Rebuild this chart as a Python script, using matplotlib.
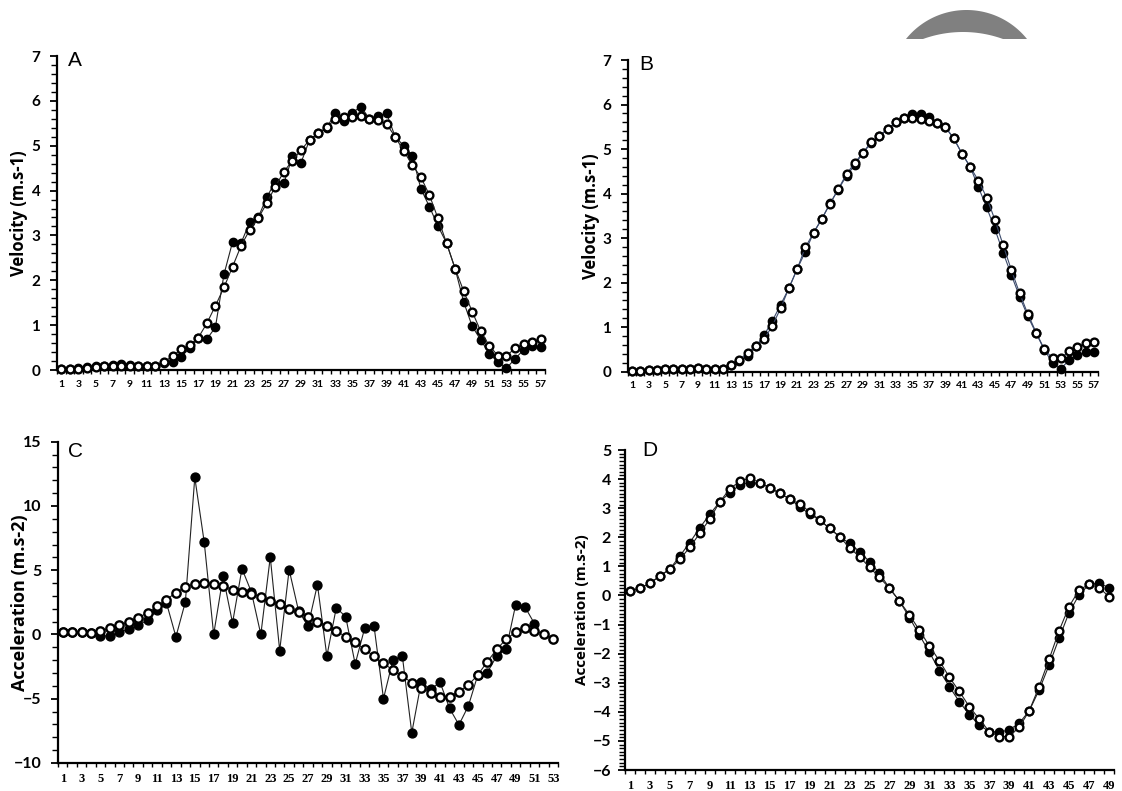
import numpy as np
import matplotlib
matplotlib.use("Agg")
import matplotlib.pyplot as plt
from matplotlib.ticker import MultipleLocator, FixedLocator
from matplotlib.patches import Polygon

# ---------------- data ----------------
velA_filled = [0.03, 0.03, 0.04, 0.06, 0.08, 0.09, 0.12, 0.13, 0.12, 0.10, 0.08, 0.10,
               0.15, 0.18, 0.30, 0.48, 0.72, 0.69, 0.95, 2.13, 2.85, 2.83, 3.29, 3.40,
               3.85, 4.20, 4.16, 4.76, 4.62, 5.13, 5.28, 5.39, 5.74, 5.54, 5.74, 5.87,
               5.60, 5.67, 5.72, 5.20, 5.00, 4.78, 4.04, 3.64, 3.21, 2.83, 2.26, 1.52,
               0.97, 0.67, 0.36, 0.18, 0.04, 0.25, 0.45, 0.54, 0.51]
velA_open = [0.02, 0.02, 0.03, 0.05, 0.07, 0.08, 0.10, 0.10, 0.10, 0.09, 0.08, 0.10,
             0.18, 0.31, 0.46, 0.56, 0.72, 1.04, 1.43, 1.84, 2.30, 2.77, 3.12, 3.38,
             3.72, 4.09, 4.42, 4.67, 4.90, 5.13, 5.28, 5.41, 5.59, 5.63, 5.65, 5.67,
             5.60, 5.58, 5.48, 5.20, 4.88, 4.57, 4.30, 3.90, 3.38, 2.83, 2.26, 1.76,
             1.30, 0.86, 0.54, 0.32, 0.32, 0.48, 0.58, 0.63, 0.69]

velB_filled = [0.02, 0.01, 0.03, 0.04, 0.06, 0.06, 0.06, 0.07, 0.08, 0.05, 0.05, 0.07,
               0.15, 0.24, 0.36, 0.57, 0.82, 1.14, 1.50, 1.87, 2.30, 2.69, 3.12, 3.43,
               3.78, 4.09, 4.40, 4.64, 4.92, 5.13, 5.29, 5.46, 5.60, 5.69, 5.78, 5.78,
               5.73, 5.59, 5.49, 5.24, 4.90, 4.60, 4.14, 3.69, 3.20, 2.67, 2.17, 1.68,
               1.24, 0.86, 0.49, 0.19, 0.07, 0.26, 0.37, 0.45, 0.45]
velB_open = [0.02, 0.01, 0.03, 0.04, 0.06, 0.06, 0.06, 0.07, 0.08, 0.05, 0.05, 0.07,
             0.15, 0.26, 0.43, 0.58, 0.73, 1.03, 1.42, 1.87, 2.30, 2.79, 3.12, 3.43,
             3.77, 4.10, 4.44, 4.69, 4.92, 5.16, 5.29, 5.46, 5.60, 5.69, 5.69, 5.67,
             5.64, 5.59, 5.49, 5.24, 4.90, 4.60, 4.29, 3.91, 3.41, 2.84, 2.28, 1.76,
             1.29, 0.88, 0.50, 0.30, 0.30, 0.46, 0.56, 0.64, 0.67]

accC_filled = [0.20, 0.20, 0.18, 0.12, -0.10, -0.13, 0.20, 0.39, 0.72, 1.11, 1.89, 2.45,
               -0.18, 2.53, 12.22, 7.18, 0.00, 4.52, 0.90, 5.12, 3.30, 0.00, 6.02, -1.25,
               5.04, 1.83, 0.65, 3.88, -1.68, 2.09, 1.37, -2.30, 0.47, 0.65, -4.99, -2.00,
               -1.68, -7.65, -3.72, -4.26, -3.72, -5.74, -7.03, -5.56, -3.15, -2.97, -1.68,
               -1.16, 2.27, 2.14, 0.85, np.nan, np.nan]
accC_open = [0.22, 0.20, 0.18, 0.15, 0.30, 0.47, 0.72, 0.98, 1.32, 1.68, 2.20, 2.71,
             3.26, 3.70, 3.95, 4.03, 3.95, 3.77, 3.49, 3.31, 3.18, 2.92, 2.60, 2.35,
             1.96, 1.73, 1.37, 1.00, 0.65, 0.28, -0.18, -0.62, -1.16, -1.68, -2.25, -2.76,
             -3.23, -3.75, -4.13, -4.57, -4.83, -4.83, -4.44, -3.93, -3.15, -2.12, -1.16,
             -0.36, 0.18, 0.47, 0.28, 0.03, -0.36]

accD_filled = [0.15, 0.25, 0.42, 0.67, 0.91, 1.36, 1.82, 2.33, 2.79, 3.22, 3.53, 3.80,
               3.88, 3.85, 3.71, 3.51, 3.32, 3.05, 2.80, 2.59, 2.31, 2.02, 1.79, 1.51,
               1.16, 0.76, 0.25, -0.19, -0.76, -1.36, -1.95, -2.58, -3.13, -3.65, -4.10,
               -4.45, -4.68, -4.70, -4.62, -4.39, -3.97, -3.25, -2.39, -1.47, -0.59, 0.02,
               0.38, 0.42, 0.27]
accD_open = [0.15, 0.25, 0.42, 0.67, 0.91, 1.24, 1.66, 2.14, 2.63, 3.22, 3.66, 3.93,
             4.03, 3.88, 3.71, 3.51, 3.32, 3.14, 2.88, 2.59, 2.31, 2.02, 1.64, 1.33,
             0.97, 0.62, 0.25, -0.19, -0.67, -1.19, -1.74, -2.24, -2.81, -3.30, -3.82,
             -4.25, -4.68, -4.85, -4.85, -4.53, -3.97, -3.13, -2.19, -1.21, -0.38, 0.19,
             0.38, 0.27, -0.04]

panel_letters = ["A", "B", "C", "D"]
ylabels = ["Velocity (m.s-1)", "Velocity (m.s-1)", "Acceleration (m.s-2)", "Acceleration (m.s-2)"]

# ---------------- figure ----------------
W, H = 1122, 791
fig = plt.figure(figsize=(W / 100, H / 100), dpi=100)
fig.patch.set_facecolor("white")

# decorative grey crescent at top right (overlay in pixel space)
ov = fig.add_axes([0, 0, 1, 1])
ov.set_xlim(0, W)
ov.set_ylim(H, 0)
ov.axis("off")
cut = 39.0
oc, orad = (966.5, 87.6), 77.6
ic, irad = (963.0, 149.8), 117.8
def arc_pts(c, r, ycut, reverse=False):
    dy = c[1] - ycut
    half = np.arccos(dy / r)
    ang = np.linspace(-np.pi / 2 - half, -np.pi / 2 + half, 80)
    pts = np.column_stack([c[0] + r * np.cos(ang), c[1] + r * np.sin(ang)])
    return pts[::-1] if reverse else pts
outer = arc_pts(oc, orad, cut)
inner = arc_pts(ic, irad, cut, reverse=True)
ov.add_patch(Polygon(np.vstack([outer, inner]), closed=True, facecolor="#808080",
                     edgecolor="none"))

def px_axes(left, right, top, bottom):
    return fig.add_axes([left / W, 1 - bottom / H, (right - left) / W, (bottom - top) / H])

TICKFONT = "Lato"
SERIF = "Liberation Serif"

def style(ax, n, ylim, major, minor, xfont, xsize, ysize, label, letter,
          ylabel_px, left_px, width_px, letter_xy, ylab_size, ypad=7):
    ax.set_xlim(0.5, n + 0.5)
    ax.set_ylim(*ylim)
    for s in ["top", "right"]:
        ax.spines[s].set_visible(False)
    for s in ["left", "bottom"]:
        ax.spines[s].set_linewidth(1.6)
    ax.yaxis.set_major_locator(MultipleLocator(major))
    ax.yaxis.set_minor_locator(MultipleLocator(minor))
    ax.set_xticks(np.arange(1, n + 1, 2))
    ax.set_xticklabels([str(v) for v in range(1, n + 1, 2)])
    ax.xaxis.set_minor_locator(FixedLocator(np.arange(0.5, n + 1, 1.0)))
    ax.tick_params(axis="x", which="major", length=0, pad=7)
    ax.tick_params(axis="x", which="minor", length=3, width=1.0, direction="out")
    ax.tick_params(axis="y", which="major", length=5, width=1.3, direction="out", pad=ypad)
    ax.tick_params(axis="y", which="minor", length=4, width=1.0, direction="out")
    for t in ax.get_xticklabels():
        t.set_fontfamily(xfont)
        t.set_fontweight("bold")
        t.set_fontsize(xsize)
    for t in ax.get_yticklabels():
        t.set_fontfamily(TICKFONT)
        t.set_fontweight("bold")
        t.set_fontsize(ysize)
    ax.set_ylabel(label, fontfamily="Open Sans", fontweight="bold", fontsize=ylab_size)
    ax.yaxis.set_label_coords((ylabel_px - left_px) / width_px, 0.5)
    ax.text(letter_xy[0], letter_xy[1], letter, transform=ax.transAxes,
            fontfamily="Liberation Sans", fontsize=15, ha="left", va="center")

def draw(ax, filled, opened, lc, ms=6.0):
    x = np.arange(1, len(opened) + 1)
    ax.plot(x, filled, color=lc, lw=0.8, marker="o", ms=ms, mfc="black",
            mec="black", mew=1.0, zorder=3, clip_on=False)
    ax.plot(x, opened, color=lc, lw=0.8, marker="o", ms=ms - 0.4, mfc="white",
            mec="black", mew=1.7, zorder=4, clip_on=False)

# Panel A
axA = px_axes(57, 545, 56, 370)
draw(axA, velA_filled, velA_open, "#222222")
style(axA, 57, (0, 7), 1, 0.2, TICKFONT, 7.5, 11, ylabels[0], panel_letters[0],
      28, 57, 488, (0.023, 0.985), 12)

# Panel B
axB = px_axes(628, 1098, 60, 371.7)
draw(axB, velB_filled, velB_open, "#3b4a6b")
style(axB, 57, (0, 7), 1, 0.2, TICKFONT, 7.5, 11, ylabels[1], panel_letters[1],
      600, 628, 470, (0.023, 0.985), 12)

# Panel C
axC = px_axes(58, 558, 441.7, 763)
draw(axC, accC_filled, accC_open, "#222222", ms=6.4)
style(axC, 53, (-10, 15), 5, 1, SERIF, 9, 11.5, ylabels[2], panel_letters[2],
      29, 58, 500, (0.02, 0.97), 13)

# Panel D
axD = px_axes(625, 1114, 450, 770)
draw(axD, accD_filled, accD_open, "#222222")
style(axD, 49, (-6, 5), 1, 0.125, SERIF, 9, 11.5, ylabels[3], panel_letters[3],
      589, 625, 489, (0.035, 1.0), 11, ypad=5)

fig.savefig("out.png", dpi=100, facecolor="white")
